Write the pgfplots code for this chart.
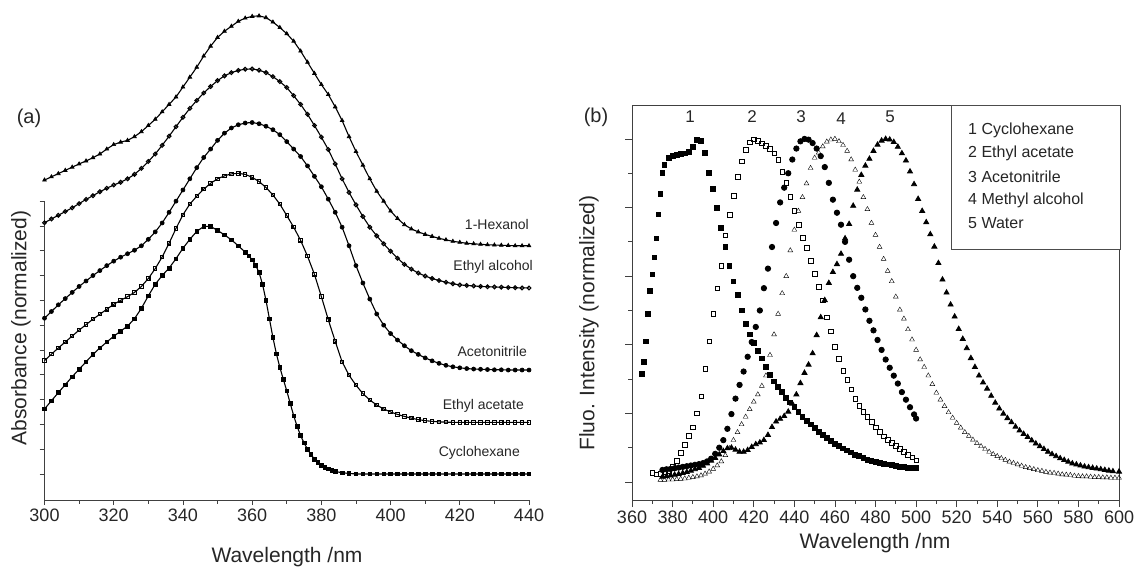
\documentclass[border=0pt]{standalone}
\usepackage{fontspec}
\setmainfont{Liberation Sans}
\usepackage{pgfplots}
\usepackage{pgfplotstable}
\pgfplotsset{compat=1.18}

% (a) absorbance, stacked, in units of the y tick spacing
\pgfplotstableread{
x hex eoh acn etac
300 11.85 10.13 6.28 4.57
302 11.98 10.28 6.55 4.83
304 12.11 10.43 6.82 5.08
306 12.24 10.58 7.07 5.32
308 12.37 10.73 7.32 5.56
310 12.50 10.90 7.56 5.80
312 12.62 11.07 7.78 6.02
314 12.75 11.22 8.00 6.24
316 12.90 11.38 8.20 6.44
318 13.10 11.52 8.40 6.64
320 13.28 11.65 8.58 6.84
322 13.38 11.76 8.74 7.00
324 13.45 11.90 8.88 7.15
326 13.60 12.08 9.02 7.32
328 13.80 12.32 9.20 7.56
330 14.05 12.60 9.46 7.88
332 14.30 12.90 9.76 8.28
334 14.60 13.25 10.12 8.75
336 14.90 13.62 10.55 9.30
338 15.20 14.00 11.00 9.90
340 15.60 14.38 11.45 10.45
342 16.00 14.74 11.90 10.88
344 16.40 15.06 12.35 11.20
346 16.85 15.36 12.76 11.48
348 17.25 15.62 13.10 11.72
350 17.60 15.86 13.45 11.90
352 17.85 16.05 13.74 12.02
354 18.05 16.18 13.95 12.10
356 18.25 16.27 14.08 12.12
358 18.38 16.32 14.15 12.08
360 18.45 16.33 14.17 11.96
362 18.47 16.28 14.12 11.79
364 18.40 16.18 14.02 11.55
366 18.22 16.02 13.88 11.25
368 18.00 15.82 13.68 10.88
370 17.75 15.58 13.40 10.42
372 17.45 15.25 13.10 9.95
374 17.05 14.90 12.80 9.42
376 16.60 14.50 12.42 8.78
378 16.15 14.05 12.00 8.05
380 15.70 13.58 11.58 7.15
382 15.30 13.08 11.08 6.22
384 14.80 12.50 10.55 5.35
386 14.25 11.90 9.95 4.52
388 13.60 11.35 9.20 3.98
390 13.00 10.85 8.40 3.58
392 12.45 10.38 7.70 3.24
394 11.90 9.95 7.05 2.98
396 11.40 9.60 6.45 2.78
398 11.00 9.28 6.00 2.62
400 10.60 8.98 5.66 2.50
402 10.30 8.70 5.40 2.40
404 10.05 8.45 5.17 2.32
406 9.88 8.26 4.97 2.25
408 9.76 8.10 4.82 2.19
410 9.66 7.98 4.68 2.15
412 9.58 7.88 4.56 2.12
414 9.50 7.80 4.46 2.10
416 9.44 7.73 4.38 2.09
418 9.38 7.67 4.32 2.08
420 9.34 7.62 4.28 2.08
422 9.30 7.60 4.25 2.08
424 9.28 7.58 4.23 2.08
426 9.26 7.56 4.22 2.08
428 9.24 7.55 4.21 2.08
430 9.23 7.54 4.20 2.08
432 9.22 7.53 4.20 2.08
434 9.21 7.52 4.19 2.08
436 9.20 7.51 4.19 2.08
438 9.20 7.50 4.19 2.08
440 9.20 7.50 4.19 2.08
}\absdata

\pgfplotstableread{
x y
300 2.62
302 2.95
304 3.28
306 3.60
308 3.92
310 4.22
312 4.52
314 4.82
316 5.08
318 5.32
320 5.55
322 5.76
324 5.96
326 6.26
328 6.68
330 7.18
332 7.65
334 8.00
336 8.30
338 8.68
340 9.10
342 9.46
344 9.78
346 9.98
348 9.98
350 9.82
352 9.64
354 9.44
356 9.20
358 8.94
359 8.80
360 8.64
361 8.42
362 8.12
363 7.65
364 7.00
365 6.25
366 5.50
367 4.85
368 4.30
369 3.82
370 3.35
371 2.85
372 2.35
373 1.92
374 1.55
375 1.25
376 1.00
377 0.78
378 0.60
379 0.46
380 0.35
381 0.27
382 0.20
383 0.14
384 0.10
386 0.05
388 0.02
390 0.00
392 0.00
394 0.00
396 0.00
398 0.00
400 0.00
402 0.00
404 0.00
406 0.00
408 0.00
410 0.00
412 0.00
414 0.00
416 0.00
418 0.00
420 0.00
422 0.00
424 0.00
426 0.00
428 0.00
430 0.00
432 0.00
434 0.00
436 0.00
438 0.00
440 0.00
}\cyhabs

% (b) fluorescence, normalized
\pgfplotstableread{
x y
365 0.315
366 0.350
367 0.410
368 0.490
369 0.557
370 0.605
371 0.655
372 0.710
373 0.780
374 0.840
375 0.900
376 0.925
378 0.945
380 0.950
382 0.953
384 0.956
386 0.958
388 0.962
390 0.978
392 0.998
394 0.995
396 0.960
398 0.900
400 0.855
402 0.800
404 0.740
406 0.685
408 0.630
410 0.585
412 0.545
414 0.500
416 0.460
418 0.430
420 0.405
422 0.382
424 0.360
426 0.335
428 0.313
430 0.293
432 0.277
434 0.262
436 0.246
438 0.232
440 0.218
442 0.204
444 0.190
446 0.179
448 0.168
450 0.157
452 0.147
454 0.137
456 0.128
458 0.120
460 0.112
462 0.105
464 0.098
466 0.092
468 0.086
470 0.080
472 0.075
474 0.070
476 0.065
478 0.061
480 0.058
482 0.055
484 0.053
486 0.051
488 0.049
490 0.047
492 0.045
494 0.044
496 0.042
498 0.041
500 0.040
}\fone

\pgfplotstableread{
x y
370 0.027
372 0.023
374 0.025
376 0.028
378 0.033
380 0.045
382 0.062
384 0.085
386 0.108
388 0.135
390 0.160
392 0.200
394 0.250
396 0.330
398 0.410
400 0.490
402 0.565
404 0.630
406 0.720
408 0.780
410 0.835
412 0.890
414 0.935
416 0.968
418 0.990
420 0.999
422 0.995
424 0.988
426 0.980
428 0.972
430 0.958
432 0.940
434 0.905
436 0.872
438 0.832
440 0.790
442 0.750
444 0.712
446 0.683
448 0.645
450 0.607
452 0.570
454 0.530
456 0.480
458 0.440
460 0.395
462 0.360
464 0.325
466 0.298
468 0.270
470 0.243
472 0.222
474 0.205
476 0.190
478 0.175
480 0.160
482 0.147
484 0.134
486 0.124
488 0.114
490 0.105
492 0.097
494 0.088
496 0.080
498 0.072
500 0.064
}\ftwo

\pgfplotstableread{
x y
375 0.035
377 0.037
379 0.038
381 0.040
383 0.042
385 0.044
387 0.046
389 0.048
391 0.050
393 0.052
395 0.055
397 0.060
399 0.068
401 0.082
403 0.100
405 0.122
407 0.155
409 0.198
411 0.243
413 0.283
415 0.322
417 0.365
419 0.408
421 0.452
423 0.500
425 0.565
427 0.622
429 0.685
431 0.755
433 0.815
435 0.858
437 0.900
439 0.940
441 0.972
443 0.993
445 1.000
447 0.998
449 0.988
451 0.972
453 0.950
455 0.918
457 0.872
459 0.823
461 0.785
463 0.750
465 0.700
467 0.648
469 0.600
471 0.566
473 0.537
475 0.503
477 0.470
479 0.442
481 0.414
483 0.385
485 0.357
487 0.333
489 0.310
491 0.287
493 0.262
495 0.240
497 0.218
499 0.197
500 0.185
}\fthree

\pgfplotstableread{
x y
374 0.006
376 0.006
378 0.007
380 0.007
382 0.008
384 0.009
386 0.010
388 0.012
390 0.014
392 0.016
394 0.019
396 0.024
398 0.030
400 0.038
402 0.048
404 0.060
406 0.078
408 0.098
410 0.122
412 0.145
414 0.168
416 0.190
418 0.212
420 0.234
422 0.255
424 0.280
426 0.310
428 0.370
430 0.430
432 0.490
434 0.550
436 0.600
438 0.675
440 0.735
442 0.790
444 0.830
446 0.870
448 0.915
450 0.945
452 0.960
454 0.978
456 0.992
458 0.998
460 1.000
462 0.993
464 0.982
466 0.965
468 0.940
470 0.910
472 0.875
474 0.830
476 0.795
478 0.755
480 0.720
482 0.685
484 0.650
486 0.615
488 0.585
490 0.540
492 0.502
494 0.476
496 0.445
498 0.415
500 0.385
502 0.357
504 0.335
506 0.310
508 0.285
510 0.260
512 0.240
514 0.221
516 0.203
518 0.187
520 0.172
522 0.158
524 0.145
526 0.134
528 0.123
530 0.113
532 0.104
534 0.096
536 0.088
538 0.081
540 0.075
542 0.069
544 0.064
546 0.059
548 0.055
550 0.051
552 0.047
554 0.043
556 0.040
558 0.037
560 0.034
562 0.032
564 0.029
566 0.027
568 0.026
570 0.024
572 0.022
574 0.021
576 0.020
578 0.018
580 0.017
582 0.016
584 0.016
586 0.015
588 0.014
590 0.014
592 0.013
594 0.013
596 0.012
598 0.012
600 0.012
}\ffour

\pgfplotstableread{
x y
375 0.015
377 0.017
379 0.019
381 0.021
383 0.023
385 0.026
387 0.029
389 0.033
391 0.037
393 0.041
395 0.047
397 0.054
399 0.062
401 0.070
403 0.080
405 0.090
407 0.098
409 0.100
411 0.094
413 0.088
415 0.088
417 0.093
419 0.102
421 0.110
423 0.115
425 0.122
427 0.137
429 0.160
431 0.176
433 0.184
435 0.192
437 0.205
439 0.228
441 0.255
443 0.288
445 0.318
447 0.342
449 0.375
451 0.428
453 0.480
455 0.530
457 0.580
459 0.612
461 0.635
463 0.665
465 0.710
467 0.752
469 0.805
471 0.852
473 0.895
475 0.922
477 0.942
479 0.965
481 0.983
483 0.995
485 1.000
487 0.998
489 0.991
491 0.977
493 0.958
495 0.937
497 0.905
499 0.868
501 0.825
503 0.790
505 0.757
507 0.722
509 0.686
511 0.638
513 0.590
515 0.552
517 0.517
519 0.482
521 0.446
523 0.417
525 0.390
527 0.361
529 0.335
531 0.310
533 0.290
535 0.272
537 0.251
539 0.231
541 0.214
543 0.199
545 0.186
547 0.174
549 0.161
551 0.150
553 0.140
555 0.131
557 0.121
559 0.112
561 0.104
563 0.096
565 0.088
567 0.081
569 0.075
571 0.069
573 0.064
575 0.059
577 0.054
579 0.051
581 0.048
583 0.045
585 0.043
587 0.041
589 0.039
591 0.037
593 0.035
595 0.033
597 0.031
600 0.030
}\ffive

\pgfplotsset{
  panel/.style={
    scale only axis,
    tick align=outside,
    /pgf/number format/assume math mode=true,
    ticklabel style={font=\fontsize{18}{20}\selectfont, text=black!85},
    axis line style={black!75, line width=0.9pt},
    every tick/.style={black!75, line width=0.8pt},
    major tick length=5pt,
    minor tick length=4pt,
  },
  absline/.style={black, line width=1.1pt, mark options={solid, line width=0.7pt}},
  fluo/.style={only marks, mark options={line width=0.8pt}},
}

\begin{document}
\begin{tikzpicture}
\useasboundingbox (0pt,0pt) rectangle (1139pt,567pt);

% ---------- (a) ----------
\begin{axis}[panel,
  at={(44.5pt,67pt)}, anchor=south west,
  width=484.5pt, height=500pt,
  xmin=300, xmax=440, ymin=-1.05, ymax=19.11,
  axis x line*=bottom, axis y line*=left,
  y axis line style={draw=none},
  xtick={300,320,...,440}, minor x tick num=1,
  ytick={0,1,...,11}, yticklabels={},
  clip=false,
]
\draw[black!75, line width=0.9pt] (axis cs:300,11) -- (axis cs:300,-1.05);
\addplot[absline, mark=square*, mark size=1.8pt] table[x=x, y=y] {\cyhabs};
\addplot[absline, mark=square, mark size=1.7pt, mark options={fill=white}] table[x=x, y=etac] {\absdata};
\addplot[absline, mark=*, mark size=2.0pt] table[x=x, y=acn] {\absdata};
\addplot[absline, mark=o, mark size=1.9pt, mark options={fill=white}] table[x=x, y=eoh] {\absdata};
\addplot[absline, mark=triangle*, mark size=2.1pt] table[x=x, y=hex] {\absdata};
\end{axis}

% ---------- (b) ----------
\begin{axis}[panel,
  at={(632pt,67pt)}, anchor=south west,
  width=487pt, height=395pt,
  xmin=360, xmax=600, ymin=-0.0525, ymax=1.099,
  tick pos=left,
  xtick={360,380,...,600}, minor x tick num=1,
  ytick={0,0.2,0.4,0.6,0.8,1.0}, minor y tick num=1, yticklabels={},
  major tick length=7pt,
]
\addplot[fluo, mark=triangle*, mark size=2.9pt] table {\ffive};
\addplot[fluo, mark=triangle, mark size=2.8pt, mark options={fill=white}] table {\ffour};
\addplot[fluo, mark=*, mark size=2.7pt] table {\fthree};
\addplot[fluo, mark=square, mark size=2.3pt, mark options={fill=white}] table {\ftwo};
\addplot[fluo, mark=square*, mark size=2.4pt] table {\fone};
\end{axis}

% legend box of (b)
\draw[black!70, line width=0.8pt, fill=white] (951pt,318pt) rectangle (1120pt,462pt);
\begin{scope}[every node/.style={anchor=west, inner sep=0pt, font=\fontsize{16}{18}\selectfont, text=black!85}]
\node at (968pt,437pt) {1 Cyclohexane};
\node at (968pt,414pt) {2 Ethyl acetate};
\node at (968pt,390pt) {3 Acetonitrile};
\node at (968pt,367pt) {4 Methyl alcohol};
\node at (968pt,344pt) {5 Water};
\end{scope}

% peak numbers
\begin{scope}[every node/.style={inner sep=0pt, font=\fontsize{17}{19}\selectfont, text=black!85}]
\node at (690pt,450pt) {1};
\node at (752pt,450pt) {2};
\node at (801pt,450pt) {3};
\node at (841pt,448pt) {4};
\node at (890pt,450pt) {5};
\end{scope}

% curve names of (a)
\begin{scope}[every node/.style={anchor=east, inner sep=0pt, font=\fontsize{14}{16}\selectfont, text=black!85}]
\node at (529pt,342pt) {1-Hexanol};
\node at (533pt,300pt) {Ethyl alcohol};
\node at (527pt,216pt) {Acetonitrile};
\node at (524pt,161pt) {Ethyl acetate};
\node at (520pt,114pt) {Cyclohexane};
\end{scope}

% panel letters and axis titles
\node[inner sep=0pt, font=\fontsize{20}{22}\selectfont, text=black!85] at (29pt,449pt) {(a)};
\node[inner sep=0pt, font=\fontsize{20}{22}\selectfont, text=black!85] at (596pt,450pt) {(b)};
\node[inner sep=0pt, font=\fontsize{21}{23}\selectfont, text=black!85] at (287pt,10pt) {Wavelength /nm};
\node[inner sep=0pt, font=\fontsize{21}{23}\selectfont, text=black!85] at (875pt,24pt) {Wavelength /nm};
\node[inner sep=0pt, rotate=90, font=\fontsize{21}{23}\selectfont, text=black!85] at (21pt,239pt) {Absorbance (normalized)};
\node[inner sep=0pt, rotate=90, font=\fontsize{21}{23}\selectfont, text=black!85] at (589pt,244pt) {Fluo. Intensity (normalized)};
\end{tikzpicture}
\end{document}
